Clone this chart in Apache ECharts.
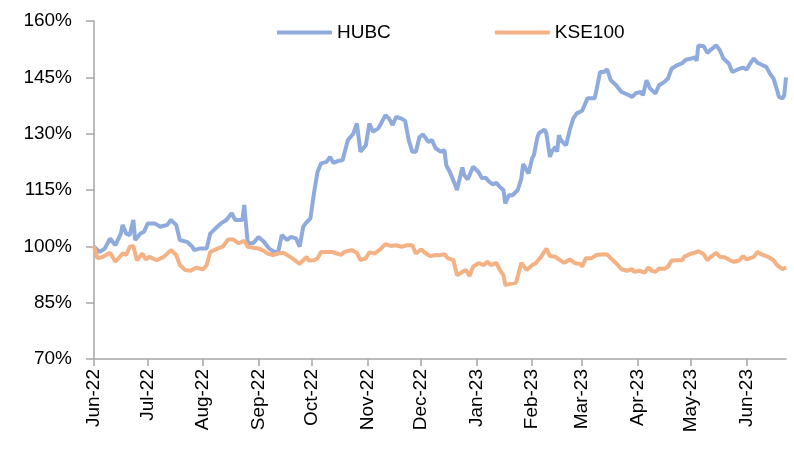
<!DOCTYPE html>
<html>
<head>
<meta charset="utf-8">
<script src="https://cdn.jsdelivr.net/npm/echarts@6/dist/echarts.min.js"></script>
<style>
  html, body { margin: 0; padding: 0; background: #fff; }
  #chart { width: 794px; height: 449px; }
</style>
</head>
<body>
<div id="chart"></div>
<script>
// month ticks on the x axis
const monthStarts = ['2022-06-01', '2022-07-01', '2022-08-01', '2022-09-01', '2022-10-01', '2022-11-01',
  '2022-12-01', '2023-01-01', '2023-02-01', '2023-03-01', '2023-04-01', '2023-05-01', '2023-06-01']
const monthLabels = ['Jun-22', 'Jul-22', 'Aug-22', 'Sep-22', 'Oct-22', 'Nov-22', 'Dec-22',
  'Jan-23', 'Feb-23', 'Mar-23', 'Apr-23', 'May-23', 'Jun-23']
const yTicks = [70, 85, 100, 115, 130, 145, 160]

// HUBC, rebased to 100%
const hubcDates = ['2022-06-01', '2022-06-04', '2022-06-07', '2022-06-10', '2022-06-13', '2022-06-16', '2022-06-17',
  '2022-06-19', '2022-06-21', '2022-06-23', '2022-06-24', '2022-06-27', '2022-06-29', '2022-07-01', '2022-07-05',
  '2022-07-08', '2022-07-12', '2022-07-14', '2022-07-17', '2022-07-19', '2022-07-23', '2022-07-26', '2022-07-27',
  '2022-07-30', '2022-08-03', '2022-08-05', '2022-08-08', '2022-08-11', '2022-08-14', '2022-08-17', '2022-08-19',
  '2022-08-23', '2022-08-24', '2022-08-26', '2022-08-29', '2022-09-01', '2022-09-04', '2022-09-07', '2022-09-10',
  '2022-09-12', '2022-09-14', '2022-09-17', '2022-09-19', '2022-09-22', '2022-09-24', '2022-09-26', '2022-09-28',
  '2022-09-30', '2022-10-02', '2022-10-04', '2022-10-06', '2022-10-09', '2022-10-11', '2022-10-13', '2022-10-16',
  '2022-10-18', '2022-10-21', '2022-10-24', '2022-10-26', '2022-10-28', '2022-10-31', '2022-11-02', '2022-11-04',
  '2022-11-07', '2022-11-11', '2022-11-13', '2022-11-15', '2022-11-17', '2022-11-20', '2022-11-22', '2022-11-24',
  '2022-11-26', '2022-11-28', '2022-11-30', '2022-12-02', '2022-12-05', '2022-12-07', '2022-12-09', '2022-12-12',
  '2022-12-14', '2022-12-15', '2022-12-17', '2022-12-20', '2022-12-21', '2022-12-24', '2022-12-25', '2022-12-27',
  '2022-12-30', '2023-01-02', '2023-01-04', '2023-01-06', '2023-01-08', '2023-01-10', '2023-01-12', '2023-01-14',
  '2023-01-16', '2023-01-17', '2023-01-19', '2023-01-21', '2023-01-24', '2023-01-26', '2023-01-27', '2023-01-30',
  '2023-02-01', '2023-02-02', '2023-02-04', '2023-02-05', '2023-02-08', '2023-02-09', '2023-02-11', '2023-02-12',
  '2023-02-14', '2023-02-15', '2023-02-16', '2023-02-17', '2023-02-20', '2023-02-22', '2023-02-24', '2023-02-26',
  '2023-03-01', '2023-03-02', '2023-03-04', '2023-03-05', '2023-03-08', '2023-03-09', '2023-03-11', '2023-03-13',
  '2023-03-15', '2023-03-17', '2023-03-20', '2023-03-23', '2023-03-26', '2023-03-29', '2023-03-31', '2023-04-03',
  '2023-04-04', '2023-04-06', '2023-04-08', '2023-04-11', '2023-04-13', '2023-04-16', '2023-04-18', '2023-04-20',
  '2023-04-23', '2023-04-26', '2023-04-28', '2023-05-01', '2023-05-03', '2023-05-04', '2023-05-05', '2023-05-08',
  '2023-05-10', '2023-05-12', '2023-05-15', '2023-05-17', '2023-05-19', '2023-05-22', '2023-05-24', '2023-05-27',
  '2023-05-30', '2023-06-01', '2023-06-03', '2023-06-05', '2023-06-07', '2023-06-10', '2023-06-12', '2023-06-14',
  '2023-06-16', '2023-06-18', '2023-06-19', '2023-06-20', '2023-06-21', '2023-06-22', '2023-06-23']
const hubcValues = [100, 98.5, 99.4, 102.1, 100.3, 103.4, 105.7,
  103.4, 103, 107, 101.7, 103.4, 103.9, 106.1, 106.1,
  105.2, 105.7, 107, 105.7, 101.7, 101.2, 99.9, 99,
  99.4, 99.4, 103.4, 104.8, 106.1, 107, 108.8, 107,
  107, 111, 100.8, 100.8, 102.5, 101.2, 99.4, 98.5,
  98.5, 103, 101.7, 102.5, 102.1, 99.9, 105.2, 106.5,
  107.4, 114.1, 119.8, 122.1, 122.5, 123.8, 122.2, 122.8,
  122.9, 128.3, 130, 132.7, 125.2, 126.9, 132.7, 130.5,
  131.4, 134.9, 134, 132.3, 134.5, 134, 133.4, 128.3,
  125.2, 125.2, 129.1, 129.8, 127.8, 128.3, 126.1, 125.2,
  125.6, 121.6, 119.8, 116.3, 115, 121, 119, 117.8,
  121.2, 119.8, 118.1, 118.3, 117.2, 116.5, 116.9, 115.8,
  115, 111.4, 113.6, 113.6, 115, 118.1, 121.9, 119.4,
  123.4, 124.3, 129.1, 130.2, 131.1, 130, 123.8, 125.2,
  126.5, 125.2, 129.6, 128.3, 126.9, 130.9, 134, 135.4,
  136.1, 136.2, 139.4, 139.8, 139.4, 141.6, 146.4, 146.4,
  147.1, 144.2, 142.9, 141.1, 140.5, 139.8, 140.8, 141.1,
  140.2, 144.2, 142, 140.7, 142.9, 143.8, 144.7, 147.3,
  148.2, 148.8, 149.7, 150, 150.3, 149.4, 153.5, 153.3,
  151.5, 152.4, 153.5, 152.2, 150, 148.7, 146.4, 147.1,
  147.6, 147.1, 148.7, 150, 148.9, 148.2, 147.8, 146,
  144.7, 141.6, 139.8, 140.2, 139.4, 140.2, 145]

// KSE100, rebased to 100%
const kseDates = ['2022-06-01', '2022-06-03', '2022-06-06', '2022-06-10', '2022-06-13', '2022-06-17', '2022-06-19',
  '2022-06-21', '2022-06-23', '2022-06-25', '2022-06-28', '2022-06-30', '2022-07-02', '2022-07-06', '2022-07-10',
  '2022-07-14', '2022-07-17', '2022-07-19', '2022-07-22', '2022-07-25', '2022-07-28', '2022-08-01', '2022-08-03',
  '2022-08-05', '2022-08-09', '2022-08-12', '2022-08-15', '2022-08-18', '2022-08-21', '2022-08-24', '2022-08-26',
  '2022-08-29', '2022-09-01', '2022-09-04', '2022-09-06', '2022-09-09', '2022-09-12', '2022-09-15', '2022-09-18',
  '2022-09-20', '2022-09-24', '2022-09-26', '2022-09-28', '2022-09-29', '2022-10-02', '2022-10-04', '2022-10-06',
  '2022-10-09', '2022-10-12', '2022-10-15', '2022-10-17', '2022-10-19', '2022-10-23', '2022-10-26', '2022-10-28',
  '2022-10-31', '2022-11-02', '2022-11-05', '2022-11-08', '2022-11-11', '2022-11-14', '2022-11-17', '2022-11-20',
  '2022-11-23', '2022-11-26', '2022-11-28', '2022-12-01', '2022-12-03', '2022-12-06', '2022-12-09', '2022-12-11',
  '2022-12-14', '2022-12-16', '2022-12-19', '2022-12-21', '2022-12-24', '2022-12-26', '2022-12-28', '2022-12-30',
  '2023-01-02', '2023-01-05', '2023-01-07', '2023-01-09', '2023-01-12', '2023-01-14', '2023-01-16', '2023-01-17',
  '2023-01-20', '2023-01-23', '2023-01-26', '2023-01-29', '2023-02-01', '2023-02-03', '2023-02-06', '2023-02-09',
  '2023-02-11', '2023-02-14', '2023-02-17', '2023-02-19', '2023-02-22', '2023-02-25', '2023-02-28', '2023-03-01',
  '2023-03-03', '2023-03-06', '2023-03-09', '2023-03-13', '2023-03-15', '2023-03-17', '2023-03-20', '2023-03-23',
  '2023-03-26', '2023-03-29', '2023-03-30', '2023-04-02', '2023-04-05', '2023-04-07', '2023-04-09', '2023-04-11',
  '2023-04-13', '2023-04-16', '2023-04-18', '2023-04-20', '2023-04-23', '2023-04-26', '2023-04-27', '2023-04-30',
  '2023-05-03', '2023-05-05', '2023-05-08', '2023-05-10', '2023-05-12', '2023-05-15', '2023-05-17', '2023-05-20',
  '2023-05-23', '2023-05-25', '2023-05-28', '2023-05-30', '2023-06-01', '2023-06-05', '2023-06-07', '2023-06-10',
  '2023-06-13', '2023-06-16', '2023-06-18', '2023-06-21', '2023-06-23']
const kseValues = [100, 96.8, 97.2, 98.3, 95.9, 98.1, 97.7,
  99.9, 100.1, 96.3, 98.1, 96.5, 97.2, 96.3, 97.2,
  99, 97.7, 95, 93.7, 93.5, 94.3, 93.9, 95,
  98.5, 99.4, 99.9, 101.8, 101.8, 100.8, 101.5, 99.9,
  99.6, 99.4, 98.8, 98.1, 97.7, 98.1, 98.3, 97.4,
  96.8, 95.3, 96.3, 97.2, 96.2, 96.3, 96.8, 98.5,
  98.5, 98.5, 98.1, 97.7, 98.5, 99, 98.3, 96.3,
  96.8, 98.4, 98.1, 99.2, 100.6, 100.1, 100.3, 99.9,
  100.3, 100.3, 98.1, 99.2, 98.3, 97.4, 97.7, 97.6,
  97.9, 96.8, 96.3, 92.3, 93.2, 93.7, 92.1, 94.6,
  95.5, 95, 95.9, 95, 95.6, 93.7, 92.3, 89.7,
  90, 90.3, 95.6, 93.7, 95, 95.5, 97.2, 99.4,
  97.4, 97.2, 96.2, 95.6, 96.5, 95.5, 95.3, 94.6,
  96.8, 96.8, 97.7, 97.9, 97.8, 96.8, 95.5, 93.9,
  93.5, 93.9, 93.2, 93.5, 93, 94.4, 93.5, 93.2,
  94.1, 94, 94.6, 96.2, 96.3, 96.3, 97.2, 97.9,
  98.3, 98.7, 97.9, 96.3, 97.2, 98.3, 97.2, 97,
  96.2, 95.9, 96.3, 97.4, 96.5, 97.2, 98.5, 97.7,
  97.2, 96.3, 95, 93.9, 94.4]

const toTime = s => {
  const p = s.split('-').map(Number)
  return new Date(p[0], p[1] - 1, p[2]).getTime()
}
const monthTimes = monthStarts.map(toTime)

const axisGray = '#A6A6A6'
const textStyle = { fontFamily: 'Liberation Sans', fontSize: 19, color: '#000' }

const chart = echarts.init(document.getElementById('chart'))
chart.setOption({
  animation: false,
  grid: { left: 94, right: 8, top: 21, bottom: 90 },
  legend: {
    left: 272, top: 18,
    icon: 'roundRect',
    itemWidth: 55, itemHeight: 4, itemGap: 104,
    textStyle: { ...textStyle },
    data: ['HUBC', 'KSE100']
  },
  xAxis: {
    // dates are plotted as timestamps on a linear axis, ticks at month starts
    type: 'value',
    min: toTime('2022-06-01'),
    max: toTime('2023-06-23'),
    axisLine: { lineStyle: { color: axisGray, width: 1.5 } },
    axisTick: { show: true, length: 7, customValues: monthTimes, lineStyle: { color: axisGray, width: 1.5 } },
    axisLabel: {
      ...textStyle,
      rotate: 90,
      margin: 10,
      customValues: monthTimes,
      formatter: v => monthLabels[monthTimes.indexOf(v)] || ''
    },
    splitLine: { show: false }
  },
  yAxis: {
    type: 'value',
    min: 70, max: 160,
    axisLine: { show: true, lineStyle: { color: axisGray, width: 1.5 } },
    axisTick: { show: true, length: 8, customValues: yTicks, lineStyle: { color: axisGray, width: 1.5 } },
    axisLabel: { ...textStyle, margin: 22, customValues: yTicks, formatter: '{value}%' },
    splitLine: { show: false }
  },
  series: [
    {
      name: 'HUBC',
      type: 'line',
      data: hubcDates.map((d, i) => [toTime(d), hubcValues[i]]),
      showSymbol: false, symbol: 'none',
      lineStyle: { color: '#8FAADC', width: 4 },
      itemStyle: { color: '#8FAADC' }
    },
    {
      name: 'KSE100',
      type: 'line',
      data: kseDates.map((d, i) => [toTime(d), kseValues[i]]),
      showSymbol: false, symbol: 'none',
      lineStyle: { color: '#F4B183', width: 4 },
      itemStyle: { color: '#F4B183' }
    }
  ]
})
</script>
</body>
</html>
